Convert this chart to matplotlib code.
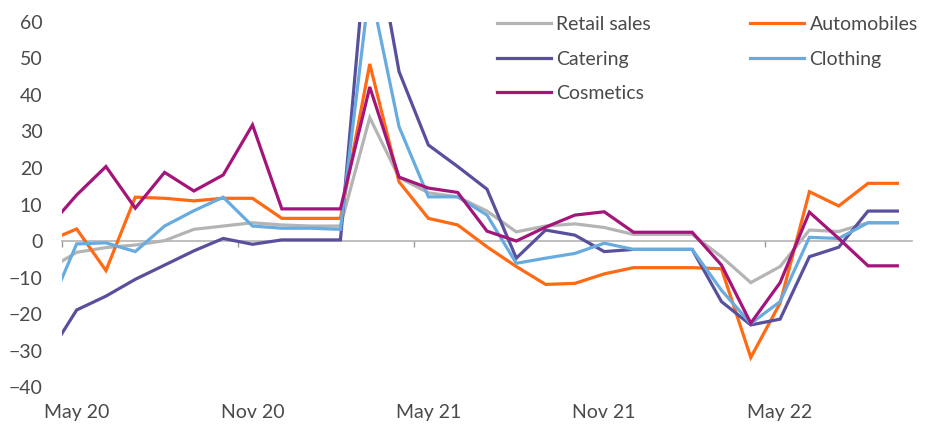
import matplotlib
matplotlib.use("Agg")
import matplotlib.pyplot as plt
import numpy as np

# monthly, Apr 20 (clipped at the left edge) .. Sep 22
months = ["Apr 20", "May 20", "Jun 20", "Jul 20", "Aug 20", "Sep 20", "Oct 20",
          "Nov 20", "Dec 20", "Jan 21", "Feb 21", "Mar 21", "Apr 21", "May 21",
          "Jun 21", "Jul 21", "Aug 21", "Sep 21", "Oct 21", "Nov 21", "Dec 21",
          "Jan 22", "Feb 22", "Mar 22", "Apr 22", "May 22", "Jun 22", "Jul 22",
          "Aug 22", "Sep 22"]

retail = [-7.9, -3.1, -1.8, -1.1, 0.1, 3.2, 4.1, 5.0, 4.4, 4.1, 4.1, 33.8, 17.4,
          13.2, 12.1, 8.2, 2.5, 4.1, 4.7, 3.7, 1.8, 1.8, 1.8, -4.3, -11.4, -7.0,
          3.0, 2.6, 5.0, 5.0]
autos = [-0.1, 3.3, -8.1, 12.0, 11.7, 11.0, 11.7, 11.7, 6.2, 6.2, 6.2, 48.5, 16.2,
         6.2, 4.4, -1.6, -7.0, -11.9, -11.6, -9.0, -7.3, -7.3, -7.3, -7.6, -31.9,
         -17.0, 13.5, 9.6, 15.8, 15.8]
catering = [-31.7, -18.9, -15.1, -10.5, -6.6, -2.7, 0.7, -0.9, 0.3, 0.3, 0.3, 91.0,
            46.4, 26.3, 20.4, 14.2, -4.7, 3.0, 1.6, -2.9, -2.3, -2.3, -2.3, -16.6,
            -23.0, -21.4, -4.3, -1.7, 8.2, 8.2]
clothing = [-19.6, -0.8, -0.5, -2.9, 4.1, 8.3, 12.0, 4.1, 3.5, 3.5, 3.2, 70.0, 31.3,
            12.1, 12.1, 7.1, -6.1, -4.7, -3.4, -0.6, -2.3, -2.3, -2.3, -13.5, -22.6,
            -16.6, 1.0, 0.7, 5.0, 5.0]
cosmetics = [3.4, 12.6, 20.4, 9.0, 18.8, 13.7, 18.1, 31.8, 8.8, 8.8, 8.8, 42.2, 17.5,
             14.5, 13.3, 2.7, 0.0, 3.8, 7.1, 8.0, 2.4, 2.4, 2.4, -6.6, -22.5, -11.4,
             7.9, 0.7, -6.8, -6.8]

tick_labels = ["May 20", "Nov 20", "May 21", "Nov 21", "May 22"]

series = [
    ("Retail sales", retail, "#b4b4b4"),
    ("Automobiles", autos, "#ff6a13"),
    ("Catering", catering, "#58509c"),
    ("Clothing", clothing, "#68acdf"),
    ("Cosmetics", cosmetics, "#a3157a"),
]

TEXT = "#4a4a4a"
plt.rcParams["font.family"] = ["Lato", "DejaVu Sans"]

fig = plt.figure(figsize=(9.35, 4.26), dpi=100)
ax = fig.add_axes([0.0663, 0.0915, 0.9091, 0.8569])

x = np.arange(len(months)) - 1  # May 20 -> 0
handles = {}
for name, vals, color in series:
    (ln,) = ax.plot(x, vals, color=color, lw=2.3, label=name,
                    solid_joinstyle="miter")
    handles[name] = ln

ax.set_xlim(-0.5, 28.5)
ax.set_ylim(-40, 60)
ax.set_yticks(np.arange(-40, 61, 10))
for s in ax.spines.values():
    s.set_visible(False)
ax.tick_params(axis="y", length=0, pad=14, labelsize=14, labelcolor=TEXT)

# month labels at the bottom, centred on the category
label_pos = [months.index(m) - 1 for m in tick_labels]
ax.set_xticks(label_pos)
ax.set_xticklabels(tick_labels)
ax.tick_params(axis="x", length=0, pad=12, labelsize=14, labelcolor=TEXT)

# zero line with small ticks between categories
zero = ax.secondary_xaxis(0.4)
zero.set_xticks([p - 0.5 for p in label_pos])
zero.set_xticklabels([])
zero.spines["bottom"].set_color("#b4b4b4")
zero.spines["bottom"].set_linewidth(1.2)
zero.tick_params(axis="x", length=4, width=1, color="#999999")

order = ["Retail sales", "Catering", "Cosmetics", "Automobiles", "Clothing"]
leg = ax.legend([handles[n] for n in order], order, ncol=2, frameon=False,
                loc="upper left", bbox_to_anchor=(0.5316, 0.962),
                bbox_transform=fig.transFigure, borderpad=0, borderaxespad=0,
                fontsize=14, handlelength=2.75, handletextpad=0.3,
                columnspacing=5.1, labelspacing=0.9)
for t in leg.get_texts():
    t.set_color(TEXT)

fig.savefig("out.png", dpi=100)
